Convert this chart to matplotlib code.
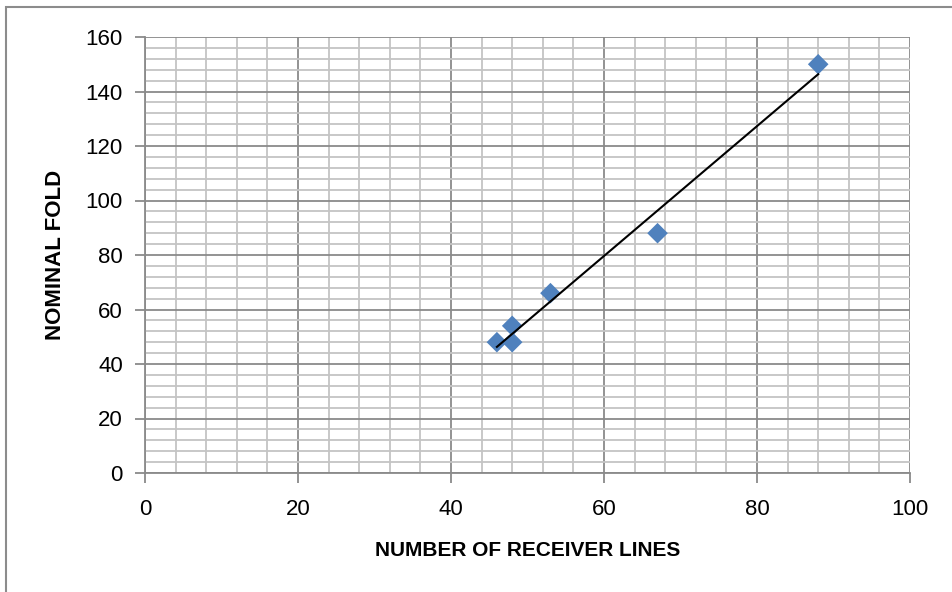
import matplotlib.pyplot as plt
from matplotlib.patches import Rectangle
import numpy as np

# data
receiver_lines = [46, 48, 48, 53, 67, 88]
nominal_fold = [48, 54, 48, 66, 88, 150]

x_ticks = [0, 20, 40, 60, 80, 100]
y_ticks = [0, 20, 40, 60, 80, 100, 120, 140, 160]

plt.rcParams['font.family'] = ['Liberation Sans', 'DejaVu Sans']

fig = plt.figure(figsize=(9.53, 5.92), dpi=100)
ax = fig.add_axes([145/953, 1 - 473/592, (910 - 145)/953, (473 - 37)/592])

# outer chart border
fig.patches.append(Rectangle((6/953, -0.1), 1.1, 1 - 7/592 + 0.1, transform=fig.transFigure,
                             fill=False, edgecolor='#8c8c8c', linewidth=1.5))

# minor and major grid like excel
ax.set_xticks(np.arange(0, 101, 4), minor=True)
ax.set_yticks(np.arange(0, 161, 4), minor=True)
ax.grid(which='minor', color='#c4c4c4', linewidth=1.3)
ax.grid(which='major', color='#8a8a8a', linewidth=1.3)
ax.set_axisbelow(True)
ax.tick_params(which='minor', length=0)

ax.set_xlim(0, 100)
ax.set_ylim(0, 160)
ax.set_xticks(x_ticks)
ax.set_yticks(y_ticks)
ax.tick_params(which='major', length=7, width=1.3, color='#8a8a8a', labelsize=16)
ax.tick_params(axis='x', pad=12)
ax.tick_params(axis='y', pad=9)

for s in ['top', 'right']:
    ax.spines[s].set_visible(False)
for s in ['left', 'bottom']:
    ax.spines[s].set_color('#8a8a8a')
    ax.spines[s].set_linewidth(1.3)

ax.scatter(receiver_lines, nominal_fold, marker='D', s=110, color='#4f81bd', zorder=3,
           edgecolors='none')

# linear trendline
fit = np.polyfit(receiver_lines, nominal_fold, 1)
xs = np.array([min(receiver_lines), max(receiver_lines)])
ax.plot(xs, np.polyval(fit, xs), color='black', linewidth=1.5, zorder=4)

ax.set_xlabel('NUMBER OF RECEIVER LINES', fontsize=15, fontweight='bold', labelpad=15)
ax.set_ylabel('NOMINAL FOLD', fontsize=16, fontweight='bold', labelpad=14)

fig.savefig('out.png', dpi=100)
